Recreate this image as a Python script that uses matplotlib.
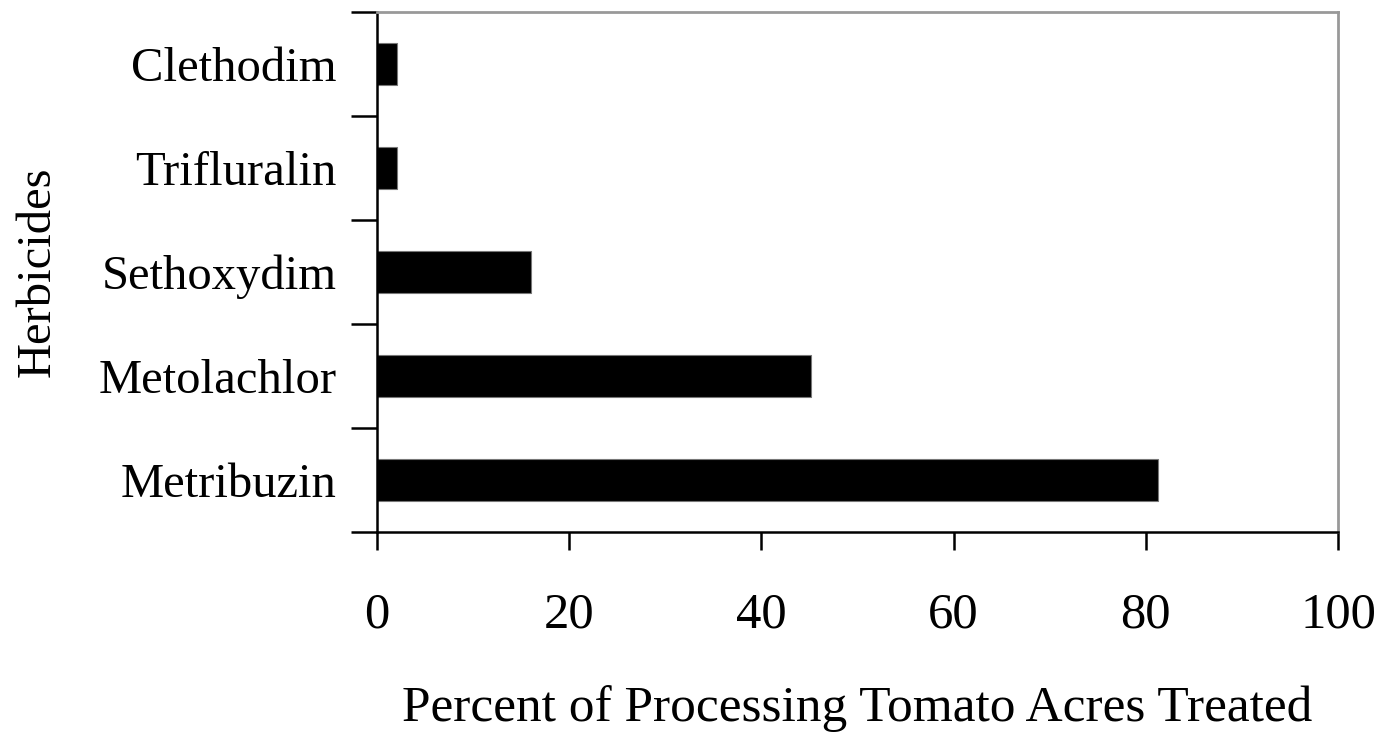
import numpy as np
import matplotlib.pyplot as plt
from matplotlib.ticker import FixedLocator

herbicides = ['Metribuzin', 'Metolachlor', 'Sethoxydim', 'Trifluralin', 'Clethodim']
percent_treated = [81.3, 45.2, 16.0, 2.1, 2.1]
x_ticks = [0, 20, 40, 60, 80, 100]

plt.rcParams['font.family'] = ['Liberation Serif', 'DejaVu Serif']

fig = plt.figure(figsize=(13.9, 7.34), dpi=100)
ax = fig.add_axes([0.2712, 0.2752, 0.6914, 0.7085])

y = np.arange(len(herbicides))
ax.barh(y, percent_treated, height=0.4, color='black', edgecolor='#777777', linewidth=0.8)

ax.set_xlim(0, 100)
ax.set_ylim(-0.5, len(herbicides) - 0.5)

# category labels on minor ticks, boundary ticks on major
ax.yaxis.set_major_locator(FixedLocator(np.arange(len(herbicides) + 1) - 0.5))
ax.yaxis.set_minor_locator(FixedLocator(y))
ax.set_yticklabels([], minor=False)
ax.set_yticklabels(herbicides, minor=True, fontsize=35)
ax.tick_params(axis='y', which='major', length=19, width=1.8, color='black', direction='out')
ax.tick_params(axis='y', which='minor', length=0, pad=29)

ax.set_xticks(x_ticks)
ax.set_xticklabels([str(t) for t in x_ticks], fontsize=36.5)
ax.tick_params(axis='x', length=13, width=1.8, direction='out', pad=30)

for side in ['left', 'bottom']:
    ax.spines[side].set_color('black')
    ax.spines[side].set_linewidth(1.8)
for side in ['top', 'right']:
    ax.spines[side].set_color('#999999')
    ax.spines[side].set_linewidth(2)

ax.set_xlabel('Percent of Processing Tomato Acres Treated', fontsize=37, labelpad=34)
ax.set_ylabel('Herbicides', fontsize=35)
ax.yaxis.set_label_coords(-0.33, 0.5)

plt.savefig('out.png', dpi=100)
